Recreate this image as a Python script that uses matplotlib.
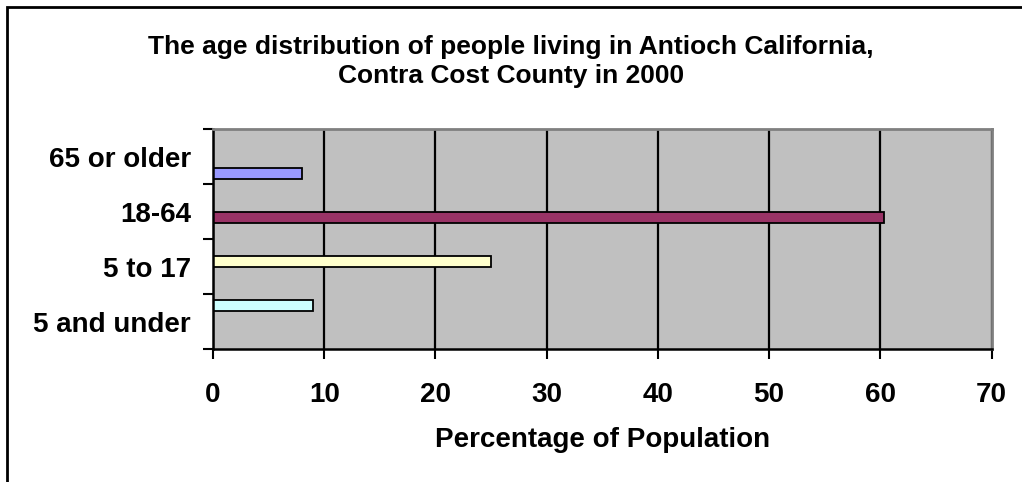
import matplotlib
matplotlib.use('Agg')
import matplotlib.pyplot as plt
from matplotlib.patches import Rectangle
import numpy as np

# age groups, bottom to top as they appear in the chart
groups = ['5 and under', '5 to 17', '18-64', '65 or older']
percent = [9, 25, 60.3, 8]
colors = ['#CCFFFF', '#FFFFCC', '#993366', '#9999FF']

plt.rcParams['font.family'] = ['Liberation Sans', 'DejaVu Sans']
plt.rcParams['font.weight'] = 'bold'

fig = plt.figure(figsize=(10.22, 4.82), dpi=100)
ax = fig.add_axes([213/1022, 1-349.3/482, (991.5-213)/1022, (349.3-129)/482])
ax.set_facecolor('#C0C0C0')

# excel style clustered bars: each series only has one value
h = 0.2
pos = np.arange(len(groups))
for k in range(len(groups)):
    ax.barh(pos[k] + (1.5 - k)*h, percent[k], height=h, color=colors[k],
            edgecolor='black', linewidth=1.3, zorder=3)

ax.set_xlim(0, 70)
ax.set_ylim(-0.5, len(groups)-0.5)
ax.set_xticks(np.arange(0, 71, 10))
ax.tick_params(axis='x', direction='out', length=7, width=1.5, pad=16.5, labelsize=20)
ax.xaxis.grid(True, color='black', linewidth=1.6, zorder=1)
ax.set_axisbelow(True)

# ticks between categories, labels at category centres
ax.set_yticks(np.arange(-0.5, len(groups), 1))
ax.set_yticklabels([])
ax.set_yticks(pos, minor=True)
ax.set_yticklabels(groups, minor=True, fontsize=20)
ax.tick_params(axis='y', which='major', direction='out', length=7, width=1.5)
ax.tick_params(axis='y', which='minor', length=0, pad=16)

for s in ['left', 'bottom']:
    ax.spines[s].set_color('black')
    ax.spines[s].set_linewidth(1.8)
    ax.spines[s].set_zorder(4)
for s in ['top', 'right']:
    ax.spines[s].set_color('#808080')
    ax.spines[s].set_linewidth(2)
    ax.spines[s].set_zorder(4)

ax.set_xlabel('Percentage of Population', fontsize=20, fontweight='bold', labelpad=14)
fig.text(0.5, 1-61.5/482, 'The age distribution of people living in Antioch California,\nContra Cost County in 2000',
         ha='center', va='center', fontsize=19, fontweight='bold', linespacing=1.3)

# chart border (only top and left are inside the image)
fig.patches.append(Rectangle((7/1022, -0.5), 2.0, 1.5 - 7/482, transform=fig.transFigure,
                             fill=False, edgecolor='black', linewidth=2))

fig.savefig('out.png', dpi=100)
